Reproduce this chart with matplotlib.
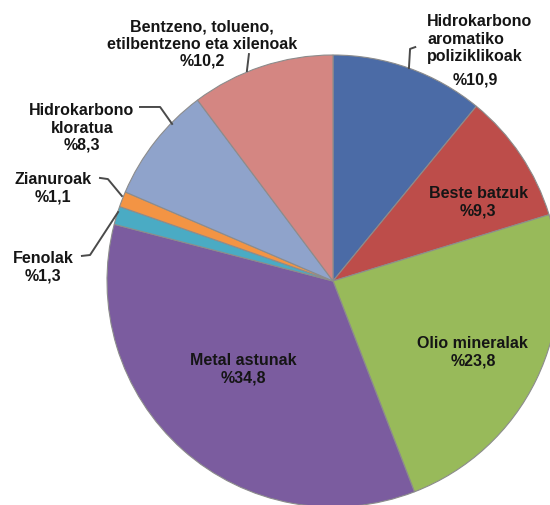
import matplotlib.pyplot as plt

# waste composition (%)
names = ["Hidrokarbono aromatiko poliziklikoak", "Beste batzuk", "Olio mineralak",
         "Metal astunak", "Fenolak", "Zianuroak", "Hidrokarbono kloratua",
         "Bentzeno, tolueno, etilbentzeno eta xilenoak"]
shares = [10.9, 9.3, 23.8, 34.8, 1.3, 1.1, 8.3, 10.2]
colors = ["#4b6ba6", "#bd4d4a", "#98ba5a", "#7b5c9f", "#4aabc4", "#f39444",
          "#8fa3cb", "#d48682"]

plt.rcParams['font.family'] = ['Liberation Sans', 'DejaVu Sans']

fig = plt.figure(figsize=(5.5, 5.06), dpi=100)
ax = fig.add_axes([0, 0, 1, 1])
ax.axis('off')

ax.pie(shares, colors=colors, startangle=90, counterclock=False, radius=1.0,
       wedgeprops=dict(edgecolor='#8c8c8c', linewidth=0.8))
ax.set_aspect('auto')
ax.set_xlim(-333 / 226, 217 / 226)
ax.set_ylim(-224 / 226, 282 / 226)

txt = dict(fontsize=11.5, fontweight='bold', color='#151515', linespacing=1.2)
pct = lambda v: "%" + f"{v:.1f}".replace(".", ",")

# labels inside the big slices
ax.text(0.642, 0.354, f"{names[1]}\n{pct(shares[1])}", ha='center', va='center', **txt)
ax.text(0.619, -0.310, f"{names[2]}\n{pct(shares[2])}", ha='center', va='center', **txt)
ax.text(-0.398, -0.385, f"{names[3]}\n{pct(shares[3])}", ha='center', va='center', **txt)

# outside labels
ax.text(0.416, 1.075, "Hidrokarbono\naromatiko\npoliziklikoak", ha='left', va='center', **txt)
ax.text(0.628, 0.894, pct(shares[0]), ha='center', va='center', **txt)
ax.text(-0.580, 1.053, "Bentzeno, tolueno,\netilbentzeno eta xilenoak\n" + pct(shares[7]),
        ha='center', va='center', multialignment='center', **txt)
ax.text(-1.111, 0.681, "Hidrokarbono\nkloratua\n" + pct(shares[6]),
        ha='center', va='center', multialignment='center', **txt)
ax.text(-1.239, 0.414, f"{names[5]}\n{pct(shares[5])}", ha='center', va='center', **txt)
ax.text(-1.283, 0.066, f"{names[4]}\n{pct(shares[4])}", ha='center', va='center', **txt)

# leader lines
lc = dict(color='#4a4a4a', linewidth=1.4, solid_joinstyle='round')
ax.plot([0.336, 0.341, 0.364], [0.942, 1.027, 1.035], **lc)
ax.plot([-0.381, -0.372], [0.929, 1.004], **lc)
ax.plot([-0.854, -0.765, -0.712], [0.770, 0.770, 0.695], **lc)
ax.plot([-1.031, -0.996, -0.934], [0.456, 0.451, 0.376], **lc)
ax.plot([-1.111, -1.075, -0.951], [0.111, 0.115, 0.305], **lc)

fig.savefig("out.png", dpi=100)
